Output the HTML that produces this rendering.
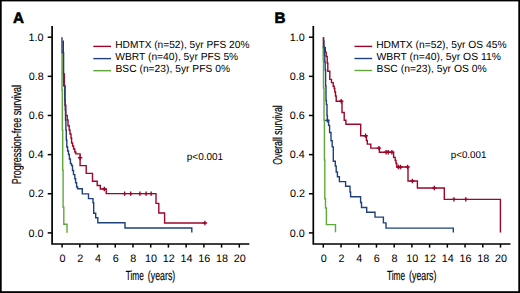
<!DOCTYPE html>
<html><head><meta charset="utf-8"><style>
html,body{margin:0;padding:0;background:#fff;}
body{width:520px;height:293px;overflow:hidden;}
svg{display:block;}
text{font-family:"Liberation Sans",sans-serif;fill:#000;text-rendering:geometricPrecision;}
.tk{font-size:10.8px;}
.lg{font-size:10.3px;}
.pv{font-size:10px;}
.ttl{font-size:13px;stroke:#000;stroke-width:0.18px;}
.pl{font-size:15.2px;font-weight:bold;fill:#000;stroke:#000;stroke-width:0.6px;}
</style></head><body>
<svg width="520" height="293" viewBox="0 0 520 293">
<path d="M52.1,26V244H249.3" stroke="#000" stroke-width="1.7" fill="none"/>
<path d="M47.7,232.9H52.1" stroke="#000" stroke-width="1.5"/>
<text x="28.61" y="236.6" class="tk">0.0</text>
<path d="M47.7,193.76H52.1" stroke="#000" stroke-width="1.5"/>
<text x="28.73" y="197.46" class="tk">0.2</text>
<path d="M47.7,154.62H52.1" stroke="#000" stroke-width="1.5"/>
<text x="28.5" y="158.32" class="tk">0.4</text>
<path d="M47.7,115.48H52.1" stroke="#000" stroke-width="1.5"/>
<text x="28.66" y="119.18" class="tk">0.6</text>
<path d="M47.7,76.34H52.1" stroke="#000" stroke-width="1.5"/>
<text x="28.65" y="80.04" class="tk">0.8</text>
<path d="M47.7,37.2H52.1" stroke="#000" stroke-width="1.5"/>
<text x="28.61" y="40.9" class="tk">1.0</text>
<path d="M62.1,244V247.6" stroke="#000" stroke-width="1.5"/>
<text x="62.5" y="261.6" text-anchor="middle" class="tk">0</text>
<path d="M79.82,244V247.6" stroke="#000" stroke-width="1.5"/>
<text x="80.22" y="261.6" text-anchor="middle" class="tk">2</text>
<path d="M97.54,244V247.6" stroke="#000" stroke-width="1.5"/>
<text x="97.94" y="261.6" text-anchor="middle" class="tk">4</text>
<path d="M115.26,244V247.6" stroke="#000" stroke-width="1.5"/>
<text x="115.66" y="261.6" text-anchor="middle" class="tk">6</text>
<path d="M132.98,244V247.6" stroke="#000" stroke-width="1.5"/>
<text x="133.38" y="261.6" text-anchor="middle" class="tk">8</text>
<path d="M150.7,244V247.6" stroke="#000" stroke-width="1.5"/>
<text x="151.1" y="261.6" text-anchor="middle" class="tk">10</text>
<path d="M168.42,244V247.6" stroke="#000" stroke-width="1.5"/>
<text x="168.82" y="261.6" text-anchor="middle" class="tk">12</text>
<path d="M186.14,244V247.6" stroke="#000" stroke-width="1.5"/>
<text x="186.54" y="261.6" text-anchor="middle" class="tk">14</text>
<path d="M203.86,244V247.6" stroke="#000" stroke-width="1.5"/>
<text x="204.26" y="261.6" text-anchor="middle" class="tk">16</text>
<path d="M221.58,244V247.6" stroke="#000" stroke-width="1.5"/>
<text x="221.98" y="261.6" text-anchor="middle" class="tk">18</text>
<path d="M239.3,244V247.6" stroke="#000" stroke-width="1.5"/>
<text x="239.7" y="261.6" text-anchor="middle" class="tk">20</text>
<text transform="translate(125.72,279.6) scale(0.6292,1)" class="ttl" style="font-size:13.2px">Time</text>
<text transform="translate(147.85,279.6) scale(0.6670,1)" class="ttl" style="font-size:13.2px">(years)</text>
<text transform="translate(20.6,184.14) rotate(-90) scale(0.6903,1)" class="ttl" style="font-size:13px">Progression-free survival</text>
<path d="M93.3,46.4H111" stroke="#9e0629" stroke-width="1.4"/>
<text transform="translate(115.27,48.1) scale(0.9871,1)" class="lg" style="font-size:10.3px">HDMTX (n=52), 5yr PFS 20%</text>
<path d="M93.3,58.6H111" stroke="#1f407c" stroke-width="1.4"/>
<text transform="translate(115.35,59.9) scale(0.9948,1)" class="lg" style="font-size:10.3px">WBRT (n=40), 5yr PFS 5%</text>
<path d="M93.3,70.7H111" stroke="#5fa83a" stroke-width="1.4"/>
<text transform="translate(115.46,71.7) scale(0.9985,1)" class="lg" style="font-size:10.3px">BSC (n=23), 5yr PFS 0%</text>
<text x="186.75" y="160.1" class="pv" style="font-size:10px">p&lt;0.001</text>
<path d="M313.3,26V244H510.5" stroke="#000" stroke-width="1.7" fill="none"/>
<path d="M308.9,232.9H313.3" stroke="#000" stroke-width="1.5"/>
<text x="289.81" y="236.6" class="tk">0.0</text>
<path d="M308.9,193.76H313.3" stroke="#000" stroke-width="1.5"/>
<text x="289.93" y="197.46" class="tk">0.2</text>
<path d="M308.9,154.62H313.3" stroke="#000" stroke-width="1.5"/>
<text x="289.7" y="158.32" class="tk">0.4</text>
<path d="M308.9,115.48H313.3" stroke="#000" stroke-width="1.5"/>
<text x="289.86" y="119.18" class="tk">0.6</text>
<path d="M308.9,76.34H313.3" stroke="#000" stroke-width="1.5"/>
<text x="289.85" y="80.04" class="tk">0.8</text>
<path d="M308.9,37.2H313.3" stroke="#000" stroke-width="1.5"/>
<text x="289.81" y="40.9" class="tk">1.0</text>
<path d="M323.3,244V247.6" stroke="#000" stroke-width="1.5"/>
<text x="323.7" y="261.6" text-anchor="middle" class="tk">0</text>
<path d="M341.02,244V247.6" stroke="#000" stroke-width="1.5"/>
<text x="341.42" y="261.6" text-anchor="middle" class="tk">2</text>
<path d="M358.74,244V247.6" stroke="#000" stroke-width="1.5"/>
<text x="359.14" y="261.6" text-anchor="middle" class="tk">4</text>
<path d="M376.46,244V247.6" stroke="#000" stroke-width="1.5"/>
<text x="376.86" y="261.6" text-anchor="middle" class="tk">6</text>
<path d="M394.18,244V247.6" stroke="#000" stroke-width="1.5"/>
<text x="394.58" y="261.6" text-anchor="middle" class="tk">8</text>
<path d="M411.9,244V247.6" stroke="#000" stroke-width="1.5"/>
<text x="412.3" y="261.6" text-anchor="middle" class="tk">10</text>
<path d="M429.62,244V247.6" stroke="#000" stroke-width="1.5"/>
<text x="430.02" y="261.6" text-anchor="middle" class="tk">12</text>
<path d="M447.34,244V247.6" stroke="#000" stroke-width="1.5"/>
<text x="447.74" y="261.6" text-anchor="middle" class="tk">14</text>
<path d="M465.06,244V247.6" stroke="#000" stroke-width="1.5"/>
<text x="465.46" y="261.6" text-anchor="middle" class="tk">16</text>
<path d="M482.78,244V247.6" stroke="#000" stroke-width="1.5"/>
<text x="483.18" y="261.6" text-anchor="middle" class="tk">18</text>
<path d="M500.5,244V247.6" stroke="#000" stroke-width="1.5"/>
<text x="500.9" y="261.6" text-anchor="middle" class="tk">20</text>
<text transform="translate(386.92,279.6) scale(0.6292,1)" class="ttl" style="font-size:13.2px">Time</text>
<text transform="translate(409.05,279.6) scale(0.6670,1)" class="ttl" style="font-size:13.2px">(years)</text>
<text transform="translate(281.8,164.71) rotate(-90) scale(0.6684,1)" class="ttl" style="font-size:13px">Overall survival</text>
<path d="M354.5,46.4H372.2" stroke="#9e0629" stroke-width="1.4"/>
<text transform="translate(376.16,48.1) scale(0.9978,1)" class="lg" style="font-size:10.3px">HDMTX (n=52), 5yr OS 45%</text>
<path d="M354.5,58.5H372.2" stroke="#1f407c" stroke-width="1.4"/>
<text transform="translate(376.45,59.9) scale(1.0102,1)" class="lg" style="font-size:10.3px">WBRT (n=40), 5yr OS 11%</text>
<path d="M354.5,70.5H372.2" stroke="#5fa83a" stroke-width="1.4"/>
<text transform="translate(376.55,71.7) scale(1.0054,1)" class="lg" style="font-size:10.3px">BSC (n=23), 5yr OS 0%</text>
<text x="450.76" y="157.9" class="pv" style="font-size:9.8px">p&lt;0.001</text>
<text x="13.1" y="22.6" class="pl">A</text>
<text x="274.5" y="22.6" class="pl">B</text>
<g fill="none" stroke-width="1.4" stroke-linejoin="miter" stroke-linecap="butt">
<path d="M63.3,40.5V74H64.4V86H65V105.3H65.8V115.5H67.2V120H68V125.8H69.2V130H70V134H71V138H71.6V143H72.6V146H73.6V149H74.8V152H75.8V153.9H80.1V165.6H86.2V173.4H92.5V181.3H97.2V185.5H100.3V189H106.2V193.6H156V203.4H158.8V213H164.6V223H204.9" stroke="#9e0629"/>
<path d="M80.1,155.6V160M77.9,157.8H82.3" stroke="#9e0629"/>
<path d="M104.3,186.8V191.2M102.1,189H106.5" stroke="#9e0629"/>
<path d="M124.6,191.4V195.8M122.4,193.6H126.8" stroke="#9e0629"/>
<path d="M130.7,191.4V195.8M128.5,193.6H132.9" stroke="#9e0629"/>
<path d="M139.9,191.4V195.8M137.7,193.6H142.1" stroke="#9e0629"/>
<path d="M146.1,191.4V195.8M143.9,193.6H148.3" stroke="#9e0629"/>
<path d="M151.2,191.4V195.8M149,193.6H153.4" stroke="#9e0629"/>
<path d="M204.9,220.8V225.2M202.7,223H207.1" stroke="#9e0629"/>
<path d="M62,52.8V90H62.3V130H62.7V170H63.1V207.3H63.8V224.2H67V232.8" stroke="#5fa83a"/>
<path d="M62,37.2V52.5H63.6V85.8H64.8V100H65.2V110H65.5V120H65.9V130H66.3V140H66.8V147H67.6V151H68.5V154.5H69.4V159H70.4V163.5H71.5V165.5H72.5V170.5H73.5V174.6H74.8V178.7H75.6V182.8H76.6V187H77.6V188.8H82.3V193.9H88.5V198.6H93V202.7H93.7V213.3H95.7V217.7H97.8V222.8H125V228H191.8V232.6" stroke="#1f407c"/>
<path d="M323.4,37.2V47.7H325.3V52.3H326.2V56.4H327.2V63H327.8V71.2H329.8V79.4H331.5V82.6H333.2V86.3H334.2V88.5H334.8V92H335.5V96H336.2V101.2H342V112.5H344.2V120.3H345.9V124.2H360.7V135.8H366.4V140.5H367.3V144.1H370.8V148.1H379.4V152.3H393.6V157.4H395.2V160.5H396V163.5H396.8V167H408V181H417.4V188H444.3V199.4H500.4V232.6" stroke="#9e0629"/>
<path d="M341.2,99V103.4M339,101.2H343.4" stroke="#9e0629"/>
<path d="M365.6,133.6V138M363.4,135.8H367.8" stroke="#9e0629"/>
<path d="M379,145.9V150.3M376.8,148.1H381.2" stroke="#9e0629"/>
<path d="M386.1,150.1V154.5M383.9,152.3H388.3" stroke="#9e0629"/>
<path d="M388.2,150.1V154.5M386,152.3H390.4" stroke="#9e0629"/>
<path d="M391.9,150.1V154.5M389.7,152.3H394.1" stroke="#9e0629"/>
<path d="M398.4,164.8V169.2M396.2,167H400.6" stroke="#9e0629"/>
<path d="M400.5,164.8V169.2M398.3,167H402.7" stroke="#9e0629"/>
<path d="M407.6,164.8V169.2M405.4,167H409.8" stroke="#9e0629"/>
<path d="M412.4,178.8V183.2M410.2,181H414.6" stroke="#9e0629"/>
<path d="M434.3,185.8V190.2M432.1,188H436.5" stroke="#9e0629"/>
<path d="M453.9,197.2V201.6M451.7,199.4H456.1" stroke="#9e0629"/>
<path d="M465.8,197.2V201.6M463.6,199.4H468" stroke="#9e0629"/>
<path d="M323.2,45.8V60H323.5V88H324V120H324.4V160H324.8V198.8H325.5V208H326.4V224.6H335.5V232.2" stroke="#5fa83a"/>
<path d="M323.6,37.2V41H324V47H324.4V55H324.8V62H325.2V70H325.6V86H326V100.5H326.4V104.6H327V115.5H327.4V120.2H328.6V125.4H329.6V132.5H331V140.7H332.2V146.9H333.3V161.3H335.3V166H336.2V172H337.4V176.8H339.4V181.6H345.6V186.2H350V192H350.6V196.8H360.6V202.5H361.5V207.5H366.7V212.3H375V217.1H383.4V222.9H386V228.1H453.3V232.6" stroke="#1f407c"/>
<path d="M327.3,118.2V122.6M325.1,120.4H329.5" stroke="#1f407c"/>
</g>
<rect x="0" y="0" width="1.7" height="293" fill="#000"/>
<rect x="0" y="0" width="520" height="1.4" fill="#000"/>
<rect x="518.3" y="0" width="1.7" height="293" fill="#000"/>
<rect x="0" y="291.2" width="520" height="1.8" fill="#000"/>
</svg>
</body></html>
